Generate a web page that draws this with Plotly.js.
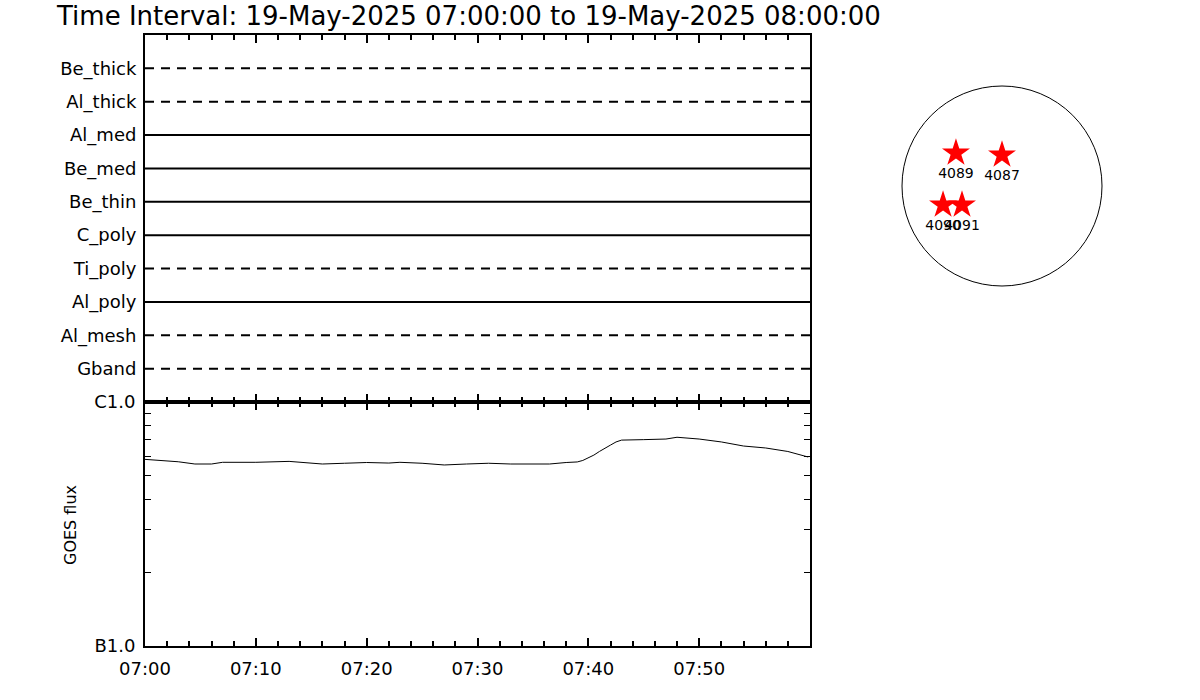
<!DOCTYPE html>
<html>
<head>
<meta charset="utf-8">
<script src="https://cdn.plot.ly/plotly-3.0.1.min.js"></script>
<style>html,body{margin:0;padding:0;background:#fff;}#chart{width:1200px;height:700px;}</style>
</head>
<body>
<div id="chart"></div>
<script>
// ---- data ----
var dateStr = '2025-05-19';
var timeStart = '07:00:00';
var timeEnd = '08:00:00';
var filterNames = ['Gband', 'Al_mesh', 'Al_poly', 'Ti_poly', 'C_poly', 'Be_thin', 'Be_med', 'Al_med', 'Al_thick', 'Be_thick'];
var filterDashed = [true, true, false, true, false, false, false, false, true, true];
var xTickLabels = ['07:00', '07:10', '07:20', '07:30', '07:40', '07:50'];
var goesTimes = ['07:00', '07:01:30', '07:03', '07:04:30', '07:06', '07:07', '07:10', '07:13', '07:14:30', '07:16', '07:18', '07:20', '07:22', '07:23', '07:25', '07:27', '07:29', '07:31', '07:33', '07:35', '07:36:30', '07:38', '07:39', '07:39:30', '07:40', '07:40:30', '07:41', '07:41:30', '07:42', '07:42:30', '07:43', '07:45', '07:47', '07:48', '07:50', '07:52', '07:54', '07:56', '07:58', '07:59:50'];
var goesFlux = [5.82e-7, 5.77e-7, 5.69e-7, 5.57e-7, 5.57e-7, 5.66e-7, 5.66e-7, 5.71e-7, 5.62e-7, 5.57e-7, 5.61e-7, 5.65e-7, 5.62e-7, 5.66e-7, 5.61e-7, 5.52e-7, 5.57e-7, 5.61e-7, 5.57e-7, 5.57e-7, 5.57e-7, 5.65e-7, 5.68e-7, 5.76e-7, 5.89e-7, 6.06e-7, 6.27e-7, 6.48e-7, 6.66e-7, 6.86e-7, 6.98e-7, 7.01e-7, 7.05e-7, 7.17e-7, 7.05e-7, 6.86e-7, 6.60e-7, 6.48e-7, 6.27e-7, 5.95e-7];
var goesTickVals = [1e-7, 1e-6];
var goesTickText = ['B1.0', 'C1.0'];
var goesMinorVals = [2e-7, 3e-7, 4e-7, 5e-7, 6e-7, 7e-7, 8e-7, 9e-7];
var arNames = ['4089', '4087', '4090', '4091'];
var arX = [-442, 0, -566, -384];   // arcsec
var arY = [317, 298, -182, -182];  // arcsec
var solarRadius = 960;

function t(s) { return dateStr + ' ' + (s.length === 5 ? s + ':00' : s); }

var font = 'DejaVu Sans, Liberation Sans, sans-serif';
var traces = [];
filterNames.forEach(function (name, i) {
  traces.push({
    x: [t(timeStart), t(timeEnd)],
    y: [i + 1, i + 1],
    xaxis: 'x', yaxis: 'y',
    mode: 'lines',
    line: { color: '#000', width: 2, dash: filterDashed[i] ? '9px,7px' : 'solid' },
    hoverinfo: 'skip'
  });
});
traces.push({
  x: goesTimes.map(t),
  y: goesFlux,
  xaxis: 'x2', yaxis: 'y2',
  mode: 'lines',
  line: { color: '#000', width: 1 }
});
traces.push({
  x: arX, y: arY, text: arNames,
  xaxis: 'x3', yaxis: 'y3',
  mode: 'markers+text',
  textposition: 'bottom center',
  textfont: { family: font, size: 14, color: '#000' },
  marker: { symbol: 'star', size: 21, color: '#ff0000', line: { width: 0 } }
});

var xd = [145 / 1200, 810 / 1200];
var commonX = {
  domain: xd, type: 'date',
  range: [t(timeStart), t(timeEnd)],
  tickmode: 'array', tickvals: xTickLabels.map(t), ticktext: xTickLabels,
  ticks: 'inside', ticklen: 8, tickwidth: 2, tickcolor: '#000',
  minor: { tickmode: 'linear', tick0: t(timeStart), dtick: 120000, ticks: 'inside', ticklen: 5, tickwidth: 2, tickcolor: '#000' },
  showline: true, linewidth: 2, linecolor: '#000', mirror: 'ticks',
  showgrid: false, zeroline: false, fixedrange: true
};
var layout = {
  width: 1200, height: 700,
  margin: { l: 0, r: 0, t: 0, b: 0 },
  paper_bgcolor: '#fff', plot_bgcolor: 'rgba(0,0,0,0)',
  showlegend: false,
  font: { family: font, color: '#000' },
  title: {
    text: 'Time Interval: 19-May-2025 07:00:00 to 19-May-2025 08:00:00',
    font: { family: font, size: 26, color: '#000' },
    xref: 'paper', x: 57 / 1200, xanchor: 'left',
    yref: 'container', y: (700 - 16) / 700, yanchor: 'middle'
  },
  xaxis: Object.assign({}, commonX, { anchor: 'y', showticklabels: false }),
  xaxis2: Object.assign({}, commonX, { anchor: 'y2', showticklabels: true, tickfont: { family: font, size: 18, color: '#000' }, ticklabelstandoff: 5 }),
  yaxis: {
    domain: [298 / 700, 665 / 700], anchor: 'x', range: [0, 11],
    tickmode: 'array', tickvals: filterNames.map(function (n, i) { return i + 1; }), ticktext: filterNames,
    ticks: '', tickfont: { family: font, size: 18, color: '#000' }, ticklabelstandoff: 3,
    showline: true, linewidth: 2, linecolor: '#000', mirror: true,
    showgrid: false, zeroline: false, fixedrange: true
  },
  yaxis2: {
    domain: [54 / 700, 298 / 700], anchor: 'x2', type: 'log', range: [-7, -6],
    tickmode: 'array', tickvals: goesTickVals, ticktext: goesTickText,
    ticks: 'inside', ticklen: 10, tickwidth: 1, tickcolor: '#000',
    minor: { tickmode: 'array', tickvals: goesMinorVals, ticks: 'inside', ticklen: 6, tickwidth: 1, tickcolor: '#000' },
    tickfont: { family: font, size: 18, color: '#000' }, ticklabelstandoff: 4,
    showline: true, linewidth: 2, linecolor: '#000', mirror: 'ticks',
    showgrid: false, zeroline: false, fixedrange: true
  },
  xaxis3: { domain: [892 / 1200, 1112 / 1200], anchor: 'y3', range: [-1056, 1056], visible: false, fixedrange: true },
  yaxis3: { domain: [(700 - 296) / 700, (700 - 76) / 700], anchor: 'x3', range: [-1056, 1056], visible: false, fixedrange: true },
  shapes: [{
    type: 'circle', xref: 'x3', yref: 'y3',
    x0: -solarRadius, x1: solarRadius, y0: -solarRadius, y1: solarRadius,
    line: { color: '#000', width: 1 }
  }],
  annotations: [{
    text: 'GOES flux', textangle: -90,
    xref: 'paper', yref: 'paper', x: 70 / 1200, y: (700 - 525) / 700,
    xanchor: 'center', yanchor: 'middle', showarrow: false,
    font: { family: font, size: 16, color: '#000' }
  }]
};
Plotly.newPlot('chart', traces, layout, { displayModeBar: false, staticPlot: true });
</script>
</body>
</html>
